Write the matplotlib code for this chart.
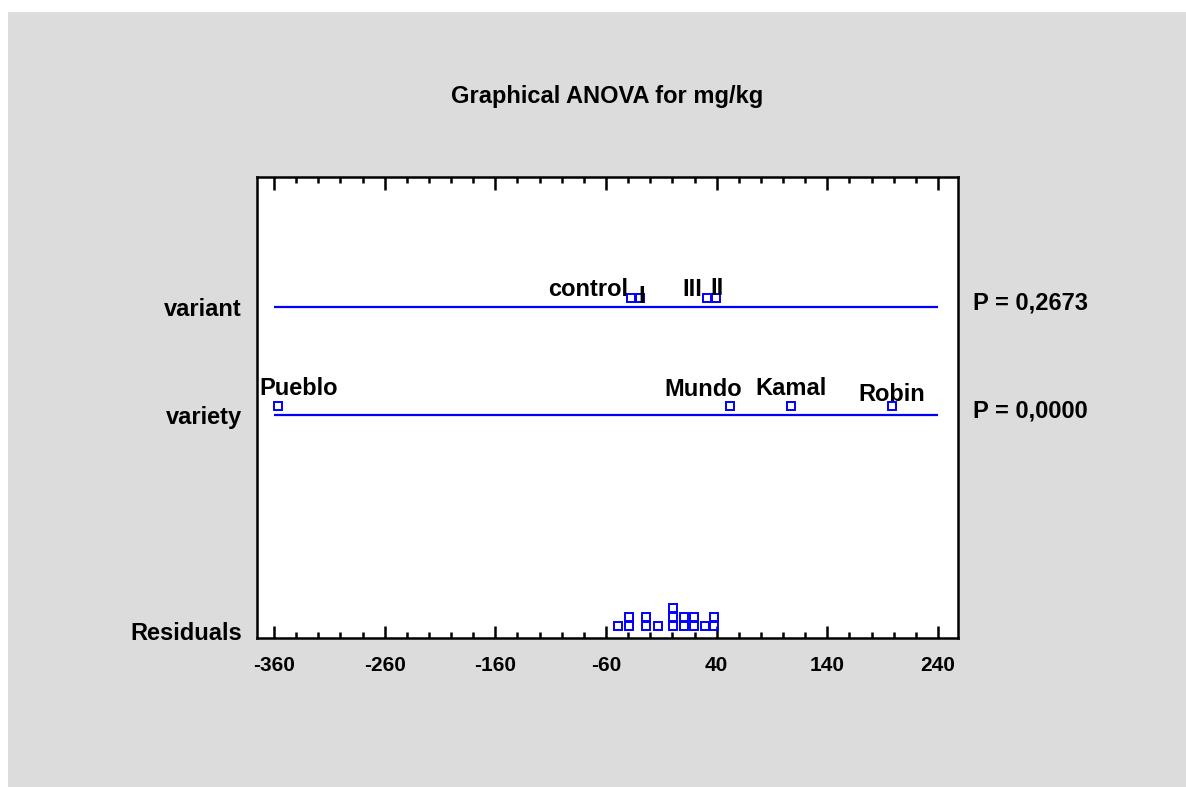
import matplotlib.pyplot as plt
from matplotlib.patches import Rectangle
from matplotlib.transforms import blended_transform_factory, offset_copy
import numpy as np

plt.rcParams['font.family'] = ['Liberation Sans', 'DejaVu Sans']
plt.rcParams['font.weight'] = 'bold'

# data
factors = ['variant', 'variety', 'Residuals']
factor_y = [2, 1, -1]
p_values = ['P = 0,2673', 'P = 0,0000']

variant_levels = ['control', 'I', 'III', 'II']
variant_effects = [-37.4, -29.3, 31.7, 39.4]

variety_levels = ['Pueblo', 'Mundo', 'Kamal', 'Robin']
variety_effects = [-356.4, 52.0, 107.2, 198.1]

residuals = [-49.4, -39.5, -39.5, -23.9, -23.9, -12.8, 0.8, 0.8, 0.8,
             10.7, 10.7, 19.2, 19.2, 29.4, 37.9, 37.9]

xticks = [-360, -260, -160, -60, 40, 140, 240]

# label nudges in pixels (software moves labels to avoid overlaps)
variant_dx = [-43, 2, -15, 1]
variant_dy = [2, -5, 2, 3]
variety_dx = [21, -27, 0, 0]
variety_dy = [11, 10, 11, 5]

blue = '#0000FF'
gray = '#DCDCDC'
fs = 17

fig = plt.figure(figsize=(11.86, 7.87), dpi=100)
fig.patch.set_facecolor('white')
fig.patches.append(Rectangle((8 / 1186, 0), 1, 1 - 12 / 787, transform=fig.transFigure,
                             facecolor=gray, edgecolor='none', zorder=-10))

ax = fig.add_axes([257 / 1186, 1 - 638 / 787, 701 / 1186, 461 / 787])
ax.set_facecolor('white')
ax.set_xlim(-375.4, 258.1)
ax.set_ylim(-1.069, 3.199)

for s in ax.spines.values():
    s.set_linewidth(1.8)

# factor lines
ax.hlines([factor_y[0], factor_y[1]], xticks[0], xticks[-1], color=blue, lw=1.6, zorder=2)

mk = dict(marker='s', ms=5.5, mfc='none', mec=blue, mew=1.4, ls='none', zorder=3)
lift = 0.075

ax.plot(variant_effects, [factor_y[0] + lift] * len(variant_effects), **mk)
ax.plot(variety_effects, [factor_y[1] + lift] * len(variety_effects), **mk)

for name, x, dx, dy in zip(variant_levels, variant_effects, variant_dx, variant_dy):
    ax.text(x, factor_y[0] + lift, name, ha='center', va='baseline', fontsize=fs, fontweight='bold',
            transform=offset_copy(ax.transData, fig=fig, x=dx, y=dy, units='dots'), zorder=4)
for name, x, dx, dy in zip(variety_levels, variety_effects, variety_dx, variety_dy):
    ax.text(x, factor_y[1] + lift, name, ha='center', va='baseline', fontsize=fs, fontweight='bold',
            transform=offset_copy(ax.transData, fig=fig, x=dx, y=dy, units='dots'), zorder=4)

# residuals stacked like a dot plot
vals, counts = np.unique(residuals, return_counts=True)
step = 9 / 108
rx, ry = [], []
for v, c in zip(vals, counts):
    for k in range(c):
        rx.append(v)
        ry.append(factor_y[2] + 0.04 + k * step)
ax.plot(rx, ry, **mk)

# axes ticks
ax.set_xticks(xticks)
ax.set_xticklabels([str(t) for t in xticks], fontsize=15, fontweight='bold')
ax.set_xticks(np.arange(xticks[0], xticks[-1] + 1, 20), minor=True)
ax.tick_params(axis='x', which='major', direction='in', length=9, width=1.8,
               top=True, pad=13, colors='black')
ax.tick_params(axis='x', which='minor', direction='in', length=4, width=1.8, top=True)

ax.set_yticks(factor_y)
ax.set_yticklabels(factors, fontsize=fs, fontweight='bold')
ax.tick_params(axis='y', length=0, pad=11)

tr = blended_transform_factory(ax.transAxes, ax.transData)
for y, p in zip(factor_y[:2], p_values):
    ax.text(1.0214, y + 0.03, p, transform=tr, ha='left', va='center', fontsize=fs, fontweight='bold')

fig.text(0.5115, 1 - 96 / 787, 'Graphical ANOVA for mg/kg', ha='center', va='center',
         fontsize=fs, fontweight='bold')

fig.savefig('out.png', dpi=100)
